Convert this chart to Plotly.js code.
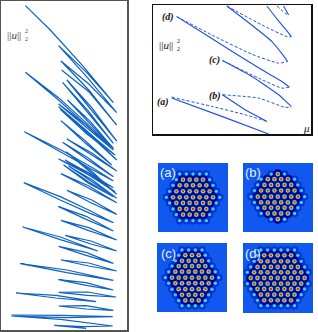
<!DOCTYPE html>
<html><head><meta charset="utf-8">
<script src="https://cdn.plot.ly/plotly-3.0.1.min.js"></script>
<style>html,body{margin:0;padding:0;background:#fff}#c{width:318px;height:332px}</style>
</head><body><div id="c"></div>
<script>
// Left panel: narrow loops of the continuation curve (mu, norm), arbitrary units
const loopMu = [
 [75,150,250,340,260,175,262,350,266,182,266,350,266,184],
 [187,263,340,263,187],[200,275,350,275,200],[202,271,340,271,202],
 [75,175,270,340,270,175,75],
 [175,258,340,258,175],[180,260,345,260,180],[175,262,350,262,175],[182,256,335,256,182],
 [187,263,340,263,187],[200,275,350,275,200],
 [72,187,280,340,280,187,72],
 [175,258,340,258,175],[198,274,350,274,198],[195,270,345,270,195],[190,265,340,265,190],[205,278,350,278,205],[182,266,350,266,182],
 [70,180,270,340,270,180,70],
 [200,275,350,275,200],[175,258,340,258,175],[182,266,350,266,182],
 [67,180,293,180,67],
 [195,272,350,272,195],[175,258,340,258,175],[183,266,350,266,183],
 [60,200,340,200,60],
 [175,258,340,258,175],[175,262,348,262,175],
 [47,167,288,167,47],
 [175,258,340,258,175],
 [33,180,338,200,33,180,338,250,162,220,258]
];
const loopNorm = [
 [983,910,800,692,782,863,767,662,748,817,730,625,725,790],
 [753,669,570,661,753],[760,677,577,669,760],[700,635,555,627,700],
 [783,707,621,555,614,700,783],
 [688,626,550,619,688],[672,605,535,598,672],[680,606,520,599,680],[638,577,505,570,638],
 [573,527,470,520,573],[583,541,487,534,583],
 [605,548,495,457,489,542,605],
 [523,486,437,479,523],[545,487,417,480,545],[520,478,425,472,520],[505,455,410,450,505],[502,459,405,452,502],[479,442,392,435,479],
 [452,410,368,332,360,400,452],
 [429,400,357,390,429],[380,351,307,342,380],[339,317,280,308,339],
 [319,289,247,281,319],
 [294,277,247,268,294],[261,243,210,234,261],[220,211,187,202,220],
 [209,190,159,182,209],
 [161,152,130,144,161],[123,124,109,114,123],
 [121,114,95,106,121],
 [82,83,69,73,82],
 [55,54,50,47,52,42,22,20,24,19,15]
];

// Top right panel: branches (solid = stable, dashed = unstable)
const solidMu = [[80,230,370],[365,300,232],[438,425,400,320,232],[432,410,350,260,180,95],[427,415,380,300,245],[438,425,400,365],[430,415]];
const solidNorm = [[108,53,0],[38,73,118],[83,95,118,173,221],[141,158,193,249,300,353],[218,235,278,343,385],[293,310,340,385],[358,385]];
const dashMu = [[80,200,300,365],[232,340,420,438],[232,340,410,432],[95,200,320,400,427],[245,350,425,438],[395,420,430]];
const dashNorm = [[111,83,58,38],[118,108,80,81],[221,168,138,141],[353,298,240,213,218],[385,328,293,293],[385,363,358]];

// Density panels: lattice rows of the hexagonal patterns
const aRowY = [58,75,92,110,128,145,163,180,198];
const aHot = [[],[98,118,138,158],[88,108,128,148,168],[78,98,118,138,158,178],[68,88,108,128,148,168,188],[78,98,118,138,158,178],[88,108,128,148,168],[98,118,138,158],[]];
const aDim = [[88,108,128,148,168],[78,178],[68,188],[58,198],[48,208],[58,198],[68,188],[78,178],[88,108,128,148,168]];

const bRowY = [58,73,90,107,125,142,158,175,192];
const bHot = [[128],[98,118,138,158],[88,108,128,148,168],[78,98,118,138,158,178],[68,88,108,128,148,168,188],[78,98,118,138,158,178],[88,108,128,148,168],[98,118,138,158],[128]];
const bDim = [[108,148],[78,178],[68,188],[58,198],[48,208],[58,198],[68,188],[78,178],[108,148]];

const cRowY = [44,60,77,93,110,128,145,163,180,197,213];
const cHot = [[],[107,127,147],[97,117,137,157],[87,107,127,147,167],[77,97,117,137,157,177],[67,87,107,127,147,167,187],[77,97,117,137,157,177],[87,107,127,147,167],[97,117,137,157],[107,127,147],[]];
const cDim = [[97,117,137,157],[87,167],[77,177],[67,187],[57,197],[47,207],[57,197],[67,187],[77,177],[87,167],[97,117,137,157]];

const dRowY = [46,62,80,97,113,130,147,163,180,197,213];
const dHot = [[],[88,108,128,148,168],[78,98,118,138,158,178],[68,88,108,128,148,168,188],[58,78,98,118,138,158,178,198],[48,68,88,108,128,148,168,188,208],[58,78,98,118,138,158,178,198],[68,88,108,128,148,168,188],[78,98,118,138,158,178],[88,108,128,148,168],[]];
const dDim = [[78,98,118,138,158,178],[68,188],[58,198],[48,208],[38,218],[],[38,218],[48,208],[58,198],[68,188],[78,98,118,138,158,178]];

const W = 318, H = 332;
const dx = (a,b)=>[a/W,b/W];
const dy = (t,b)=>[1-b/H,1-t/H];
const hidden = {showgrid:false,zeroline:false,showticklabels:false,ticks:'',showline:false,fixedrange:true};
const framed = (c,w)=>Object.assign({},hidden,{showline:true,mirror:true,linecolor:c,linewidth:w});

const traces = [];
const SN = '#0f62c4', BL = '#1f4fe0';
loopMu.forEach((m,i)=>traces.push({x:m,y:loopNorm[i],xaxis:'x',yaxis:'y',mode:'lines',line:{color:SN,width:1.2},hoverinfo:'skip'}));
solidMu.forEach((m,i)=>traces.push({x:m,y:solidNorm[i],xaxis:'x2',yaxis:'y2',mode:'lines',line:{color:BL,width:1.1,shape:'spline',smoothing:0.5},hoverinfo:'skip'}));
dashMu.forEach((m,i)=>traces.push({x:m,y:dashNorm[i],xaxis:'x2',yaxis:'y2',mode:'lines',line:{color:BL,width:1,dash:'3px,2px',shape:'spline',smoothing:0.5},hoverinfo:'skip'}));

function flat(rows,ys){const X=[],Y=[];rows.forEach((r,i)=>r.forEach(v=>{X.push(v);Y.push(ys[i]);}));return [X,Y];}
function lattice(n,ys,hot,dim){
  const [hx,hy]=flat(hot,ys),[cx,cy]=flat(dim,ys);
  const ax='x'+n, ay='y'+n;
  const add=(x,y,s,c)=>traces.push({x:x,y:y,xaxis:ax,yaxis:ay,mode:'markers',marker:{size:s,color:c,line:{width:0}},hoverinfo:'skip'});
  add(cx,cy,7.5,'#0a2fd0');
  add(hx,hy,9.5,'#00009a');
  add(cx,cy,3.4,'#2fd8f0');
  add(hx,hy,4.8,'#30c8c0');
  add(hx,hy,3.4,'#f8e030');
  add(hx,hy,2.3,'#e02010');
}
lattice(3,aRowY,aHot,aDim);
lattice(4,bRowY,bHot,bDim);
lattice(5,cRowY,cHot,cDim);
lattice(6,dRowY,dHot,dDim);

const serif='"Liberation Serif","DejaVu Serif",serif';
const note=(px,py,t,s,c,f)=>({xref:'paper',yref:'paper',x:px/W,y:1-py/H,text:t,showarrow:false,xanchor:'center',yanchor:'middle',font:{family:f||serif,size:s,color:c||'#111'}});
const anns=[
 note(14,35,'||<i>u</i>||',11,'#444'),
 note(26,31,'2',6,'#444'),note(26,39,'2',6,'#444'),
 note(166,45,'||<i>u</i>||',11,'#111'),
 note(178,41,'2',6),note(178,49,'2',6),
 note(163,102,'<b><i>(a)</i></b>',10),
 note(215,96,'<b><i>(b)</i></b>',10),
 note(214,60,'<b><i>(c)</i></b>',10),
 note(168,17,'<b><i>(d)</i></b>',10),
 note(306,128,'<i>μ</i>',11),
];
const sans='"Liberation Sans",Arial,sans-serif';
anns.push(note(168,172,'(a)',13,'#e8f2ff',sans),note(253,172,'(b)',13,'#e8f2ff',sans),note(168,253,'(c)',13,'#e8f2ff',sans),note(253,253,'(d)',13,'#e8f2ff',sans));

const bg='#1058ee';
const layout={width:W,height:H,margin:{l:0,r:0,t:0,b:0},paper_bgcolor:'#fff',plot_bgcolor:'#fff',showlegend:false,annotations:anns,
 xaxis:Object.assign(framed('#555',1.5),{domain:dx(0.8,127),range:[1,381]}),
 yaxis:Object.assign(framed('#555',1.5),{domain:dy(1,330),range:[10,997]}),
 xaxis2:Object.assign(framed('#111',1.5),{domain:dx(153,311),range:[24,497],anchor:'y2'}),
 yaxis2:Object.assign(framed('#111',1.5),{domain:dy(5,134),range:[0,388],anchor:'x2'}),
 xaxis3:Object.assign({},hidden,{domain:dx(158,228),range:[23,233],anchor:'y3'}),
 yaxis3:Object.assign({},hidden,{domain:dy(163,232),range:[232,25],anchor:'x3'}),
 xaxis4:Object.assign({},hidden,{domain:dx(243,313),range:[24,233],anchor:'y4'}),
 yaxis4:Object.assign({},hidden,{domain:dy(163,232),range:[230,25],anchor:'x4'}),
 xaxis5:Object.assign({},hidden,{domain:dx(157,227),range:[22,232],anchor:'y5'}),
 yaxis5:Object.assign({},hidden,{domain:dy(243,312),range:[232,23],anchor:'x5'}),
 xaxis6:Object.assign({},hidden,{domain:dx(243,313),range:[25,233],anchor:'y6'}),
 yaxis6:Object.assign({},hidden,{domain:dy(243,313),range:[235,25],anchor:'x6'}),
 shapes:[3,4,5,6].map(n=>({type:'rect',xref:'x'+n+' domain',yref:'y'+n+' domain',x0:0,x1:1,y0:0,y1:1,fillcolor:bg,line:{width:0},layer:'below'}))
};
Plotly.newPlot('c',traces,layout,{displayModeBar:false,staticPlot:true});
</script></body></html>
